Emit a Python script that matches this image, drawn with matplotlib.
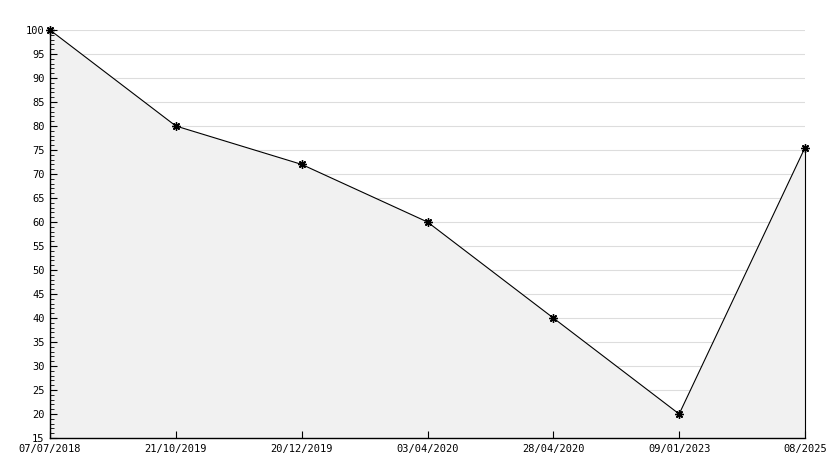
import numpy as np
import matplotlib.pyplot as plt
from matplotlib.ticker import MultipleLocator

plt.rcParams['font.family'] = ['DejaVu Sans Mono']

# data
dates = ['07/07/2018', '21/10/2019', '20/12/2019', '03/04/2020',
         '28/04/2020', '09/01/2023', '08/2025']
values = [100, 80, 72, 60, 40, 20, 75.5]
yticks = list(range(15, 101, 5))

x = np.arange(len(dates))

fig = plt.figure(figsize=(8.34, 4.68), dpi=100)
ax = fig.add_axes([50 / 834, 30 / 468, 755 / 834, 408 / 468])

# grid below the fill
ax.hlines(yticks, x[0], x[-1], color='#dddddd', lw=0.8, zorder=0.5)
ax.fill_between(x, values, 15, color='#f1f1f1', lw=0, zorder=1)
ax.plot(x, values, color='black', lw=0.8, zorder=3, clip_on=False)
ax.plot(x, values, ls='none', marker=(8, 2, 0), ms=6, color='black',
        zorder=4, clip_on=False)
ax.vlines(x[-1], 15, values[-1], color='black', lw=0.8, zorder=3, clip_on=False)

ax.set_xlim(x[0], x[-1])
ax.set_ylim(15, 100)
ax.set_yticks(yticks)
ax.yaxis.set_minor_locator(MultipleLocator(1))
ax.set_xticks(x)
ax.set_xticklabels(dates)

for s in ['top', 'right']:
    ax.spines[s].set_visible(False)
ax.spines['left'].set_linewidth(1)
ax.spines['bottom'].set_linewidth(1)

ax.tick_params(axis='y', which='major', direction='in', length=5, labelsize=7.5, pad=4)
ax.tick_params(axis='y', which='minor', direction='in', length=3)
ax.tick_params(axis='x', direction='in', length=5, labelsize=7.5, pad=4)

plt.savefig('out.png', dpi=100)
